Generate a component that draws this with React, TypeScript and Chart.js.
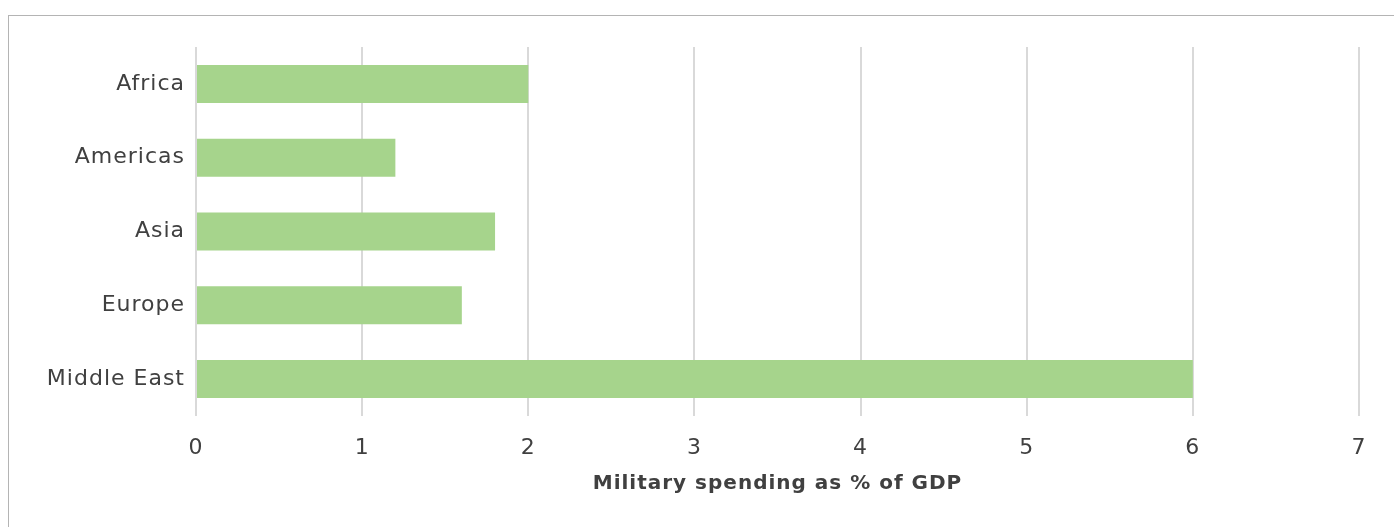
import React, { useEffect, useRef } from "react";
import { Chart, registerables } from "chart.js";

Chart.register(...registerables);

const categories = ["Africa", "Americas", "Asia", "Europe", "Middle East"];
const spending = [2.0, 1.2, 1.8, 1.6, 6.0];
const xTicks = [0, 1, 2, 3, 4, 5, 6, 7];
const axisTitle = "Military spending as % of GDP";

const FONT = "'DejaVu Sans', 'Open Sans', sans-serif";
const TEXT = "#404040";

const spacingPlugin = {
  id: "spacing",
  beforeDraw: (chart: any) => {
    (chart.ctx as any).letterSpacing = "1px";
  },
};

export default function App() {
  const ref = useRef<HTMLCanvasElement | null>(null);
  useEffect(() => {
    if (!ref.current) return;
    const chart = new Chart(ref.current, {
      type: "bar",
      data: {
        labels: categories,
        datasets: [
          {
            data: spending,
            backgroundColor: "#a6d48c",
            borderWidth: 0,
            barPercentage: 0.515,
            categoryPercentage: 1,
          },
        ],
      },
      plugins: [spacingPlugin],
      options: {
        indexAxis: "y",
        responsive: false,
        animation: false,
        layout: { padding: { top: 31, right: 35, left: 0, bottom: 0 } },
        plugins: { legend: { display: false }, tooltip: { enabled: false } },
        scales: {
          x: {
            min: xTicks[0],
            max: xTicks[xTicks.length - 1],
            afterBuildTicks: (s: any) => {
              s.ticks = xTicks.map((v) => ({ value: v }));
            },
            afterFit: (s: any) => {
              s.height = 111;
            },
            grid: { color: "#d9d9d9", lineWidth: 2, drawTicks: false },
            border: { display: false },
            ticks: {
              padding: 19,
              color: TEXT,
              font: { family: FONT, size: 22 },
              maxRotation: 0,
            },
            title: {
              display: true,
              text: axisTitle,
              color: TEXT,
              font: { family: FONT, size: 20, weight: "bold" },
              padding: { top: 0, bottom: 31 },
            },
          },
          y: {
            afterFit: (s: any) => {
              s.width = 187;
            },
            grid: { display: false, drawTicks: false },
            border: { display: false },
            ticks: {
              padding: 11,
              color: TEXT,
              font: { family: FONT, size: 22 },
            },
          },
        },
      },
    });
    return () => chart.destroy();
  }, []);
  return (
    <div
      style={{
        position: "fixed",
        left: 8,
        top: 15,
        width: 1385,
        height: 511,
        borderTop: "1px solid #b4b4b4",
        borderLeft: "1px solid #b4b4b4",
        background: "#fff",
      }}
    >
      <canvas ref={ref} width={1385} height={511} style={{ display: "block" }} />
    </div>
  );
}
